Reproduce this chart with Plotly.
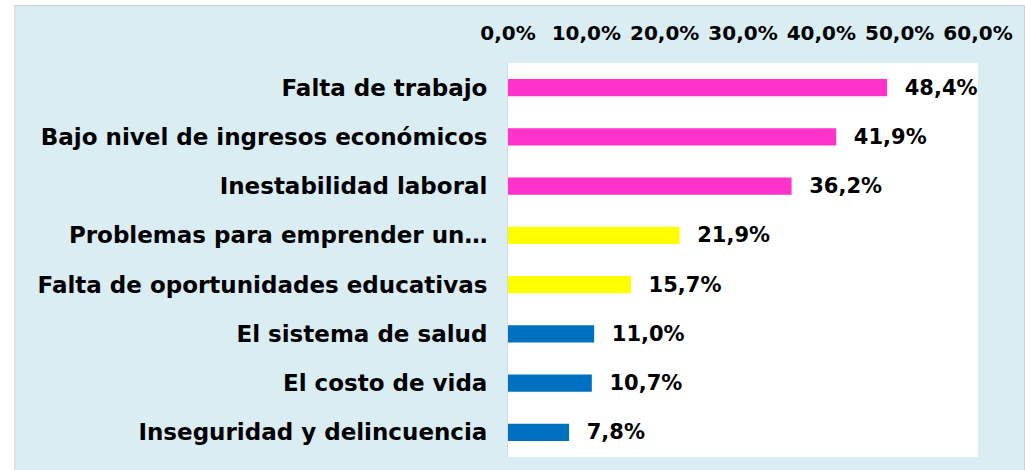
import plotly.graph_objects as go

categories = [
    "Falta de trabajo",
    "Bajo nivel de ingresos económicos",
    "Inestabilidad laboral",
    "Problemas para emprender un…",
    "Falta de oportunidades educativas",
    "El sistema de salud",
    "El costo de vida",
    "Inseguridad y delincuencia",
]
values = [48.4, 41.9, 36.2, 21.9, 15.7, 11.0, 10.7, 7.8]
value_labels = ["48,4%", "41,9%", "36,2%", "21,9%", "15,7%", "11,0%", "10,7%", "7,8%"]
bar_colors = ["#FF33CC", "#FF33CC", "#FF33CC", "#FFFF00", "#FFFF00", "#0070C0", "#0070C0", "#0070C0"]
tick_values = [0, 10, 20, 30, 40, 50, 60]
tick_labels = ["0,0%", "10,0%", "20,0%", "30,0%", "40,0%", "50,0%", "60,0%"]

W, H = 1025, 470
L, R, T, B = 508, 42, 63, 13
pw, ph = W - L - R, H - T - B

FONT = "DejaVu Sans, Arial, sans-serif"
BG = "#DAEDF3"

fig = go.Figure()
fig.add_trace(go.Bar(
    y=categories,
    x=values,
    orientation="h",
    marker=dict(color=bar_colors, line=dict(width=0)),
    width=0.35,
    text=["\u00a0\u00a0" + t for t in value_labels],
    textposition="outside",
    constraintext="none",
    cliponaxis=False,
    textfont=dict(family=FONT, size=21, color="#000000", weight="bold"),
    hoverinfo="skip",
))


def px_x(p):
    return (p - L) / pw


def px_y(p):
    return (H - B - p) / ph


fig.update_layout(
    width=W,
    height=H,
    margin=dict(l=L, r=R, t=T, b=B, pad=0),
    paper_bgcolor="#FFFFFF",
    plot_bgcolor="#FFFFFF",
    showlegend=False,
    font=dict(family=FONT, color="#000000"),
    shapes=[
        dict(type="rect", xref="paper", yref="paper", layer="below",
             x0=px_x(9.5), x1=px_x(W + 5), y0=px_y(5.5), y1=px_y(H + 5),
             fillcolor=BG, line=dict(color="#D0D0D0", width=1)),
        dict(type="rect", xref="paper", yref="paper", layer="below",
             x0=0, x1=1, y0=0, y1=1,
             fillcolor="#FFFFFF", line=dict(width=0)),
    ],
    xaxis=dict(
        side="top",
        range=[0, 60],
        tickvals=tick_values,
        ticktext=tick_labels,
        ticks="outside",
        ticklen=14,
        tickcolor="rgba(0,0,0,0)",
        showgrid=False,
        zeroline=False,
        showline=False,
        tickfont=dict(family=FONT, size=20, color="#000000", weight="bold"),
        fixedrange=True,
    ),
    yaxis=dict(
        autorange="reversed",
        ticks="outside",
        ticklen=15,
        tickcolor="rgba(0,0,0,0)",
        showgrid=False,
        zeroline=False,
        showline=True,
        linecolor="#D9D9D9",
        linewidth=1,
        tickfont=dict(family=FONT, size=23, color="#000000", weight="bold"),
        fixedrange=True,
    ),
)

fig.write_html(
    "out.html",
    config={"displayModeBar": False, "staticPlot": True},
    post_script="document.body.style.margin='0';document.body.style.overflow='hidden';",
)
